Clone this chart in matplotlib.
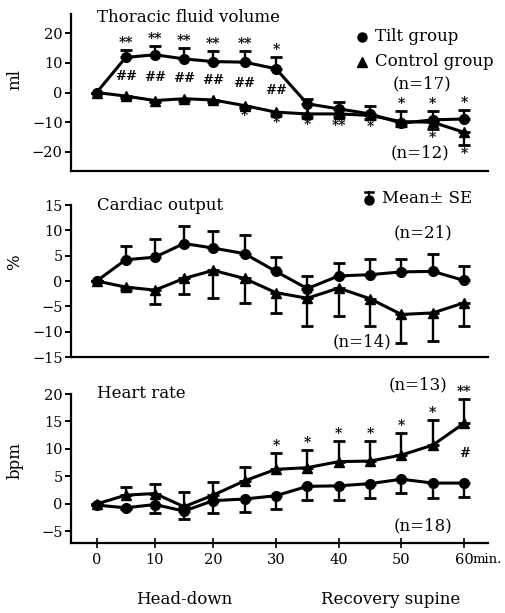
import numpy as np
import matplotlib
matplotlib.use("Agg")
import matplotlib.pyplot as plt
from matplotlib.lines import Line2D

# ---------------- data ----------------
time = [0, 5, 10, 15, 20, 25, 30, 35, 40, 45, 50, 55, 60]

tfv_tilt = [0, 11.8, 12.7, 11.3, 10.4, 10.2, 8.0, -3.8, -5.5, -7.2, -10.3, -9.2, -8.9]
tfv_tilt_se = [0, 2.6, 3.1, 3.6, 3.7, 3.6, 3.9, 1.7, 2.2, 2.8, 4.2, 3.1, 3.1]
tfv_ctrl = [0, -1.2, -2.7, -2.1, -2.5, -4.4, -6.6, -7.2, -7.2, -7.7, -9.8, -10.0, -13.4]
tfv_ctrl_se = [0, 0.5, 0.6, 0.6, 0.6, 0.8, 0.9, 1.0, 1.2, 1.2, 1.3, 2.4, 4.4]
tfv_tilt_sig = ['', '**', '**', '**', '**', '**', '*', '', '', '', '*', '*', '*']
tfv_ctrl_sig = ['', '', '', '', '', '*', '*', '*', '**', '*', '', '*', '*']
tfv_between_sig = ['', '##', '##', '##', '##', '##', '##', '', '', '', '', '', '']

co_tilt = [0, 4.2, 4.7, 7.4, 6.5, 5.4, 1.9, -1.5, 1.0, 1.25, 1.8, 1.9, 0.1]
co_tilt_se = [0, 2.7, 3.5, 3.4, 3.4, 3.7, 2.8, 2.5, 2.6, 3.05, 2.5, 3.5, 2.9]
co_ctrl = [0, -1.2, -1.8, 0.5, 2.1, 0.5, -2.3, -3.4, -1.4, -3.5, -6.6, -6.3, -4.3]
co_ctrl_se = [0, 0.6, 2.7, 3.0, 5.4, 4.8, 4.0, 5.4, 5.5, 5.3, 5.6, 5.5, 4.5]

hr_tilt = [-0.2, -0.7, -0.1, -1.3, 0.6, 0.9, 1.5, 3.2, 3.3, 3.7, 4.5, 3.8, 3.8]
hr_tilt_se = [0, 0.3, 1.6, 1.5, 2.3, 2.4, 2.4, 2.4, 2.5, 2.7, 2.5, 2.8, 2.5]
hr_ctrl = [0, 1.6, 1.9, -0.5, 1.6, 4.2, 6.3, 6.6, 7.7, 7.8, 8.9, 10.7, 14.7]
hr_ctrl_se = [0, 1.4, 1.7, 2.7, 2.4, 2.5, 3.0, 3.2, 3.7, 3.6, 4.0, 4.5, 4.4]
hr_ctrl_sig = ['', '', '', '', '', '', '*', '*', '*', '*', '*', '*', '**']
hr_between_sig = ['', '', '', '', '', '', '', '', '', '', '', '', '#']

x_ticks = [0, 10, 20, 30, 40, 50, 60]

# ---------------- style ----------------
plt.rcParams['font.family'] = ['DejaVu Serif']
plt.rcParams['font.size'] = 12
FS = 12
TFS = 10.5
LW = 2.2
MS = 7

K = 1.0773  # recovery segment is drawn slightly wider than the head-down one


def fwd(x):
    x = np.asarray(x, dtype=float)
    return np.where(x <= 20, x, 20 + (x - 20) * K)


def inv(y):
    y = np.asarray(y, dtype=float)
    return np.where(y <= 20, y, 20 + (y - 20) / K)


fig = plt.figure(figsize=(5.05, 6.13), dpi=100)
W, H = 505, 613


def add_ax(top, bottom):
    left, right = 71, 488
    return fig.add_axes([left / W, 1 - bottom / H, (right - left) / W, (bottom - top) / H])


ax1 = add_ax(14, 171)
ax2 = add_ax(205, 357)
ax3 = add_ax(394, 543)


def style(ax, ylim, yticks, ylabel, ylab_y, show_x=False):
    ax.set_xscale('function', functions=(fwd, inv))
    ax.set_xlim(-4.4, 63.8)
    ax.set_ylim(*ylim)
    ax.set_yticks(yticks)
    ax.set_yticklabels([("\u2212" + str(-t)) if t < 0 else str(t) for t in yticks])
    for s in ['top', 'right']:
        ax.spines[s].set_visible(False)
    for s in ['left', 'bottom']:
        ax.spines[s].set_linewidth(1.6)
    ax.tick_params(axis='y', direction='out', length=4, width=1.4, labelsize=TFS, pad=2)
    if show_x:
        ax.set_xticks(x_ticks)
        ax.set_xticklabels([str(t) for t in x_ticks])
        ax.tick_params(axis='x', direction='inout', length=7, width=1.2, labelsize=TFS, pad=4)
    else:
        ax.set_xticks([])
    ax.set_ylabel(ylabel, fontsize=FS, va='center')
    ax.yaxis.set_label_coords(-0.134, ylab_y)


def series(ax, y, se, marker, up):
    yerr = [np.zeros(len(se)), np.array(se)] if up else [np.array(se), np.zeros(len(se))]
    ax.errorbar(time, y, yerr=yerr, color='black', lw=LW, marker=marker, ms=MS,
                capsize=4, capthick=2.0, elinewidth=1.7, zorder=3, clip_on=False)


def sig_above(ax, y, se, labels, off=0):
    for t, v, e, s in zip(time, y, se, labels):
        if s:
            ax.annotate(s, (t, v + e), xytext=(0, off), textcoords='offset points',
                        ha='center', va='bottom', fontsize=10, fontweight='bold')


def sig_below(ax, y, se, labels, off=-1):
    for t, v, e, s in zip(time, y, se, labels):
        if s:
            ax.annotate(s, (t, v - e), xytext=(0, off), textcoords='offset points',
                        ha='center', va='top', fontsize=10, fontweight='bold')


def sig_between(ax, ya, yb, labels):
    for t, a, b, s in zip(time, ya, yb, labels):
        if s:
            ax.annotate(s, (t, (a + b) / 2), ha='center', va='center', fontsize=9.5,
                        fontweight='bold')


# ---- Panel 1: thoracic fluid volume ----
style(ax1, (-26.4, 26.4), [-20, -10, 0, 10, 20], 'ml', 0.58)
series(ax1, tfv_tilt, tfv_tilt_se, 'o', True)
series(ax1, tfv_ctrl, tfv_ctrl_se, '^', False)
sig_above(ax1, tfv_tilt, tfv_tilt_se, tfv_tilt_sig)
sig_below(ax1, tfv_ctrl, tfv_ctrl_se, tfv_ctrl_sig)
sig_between(ax1, tfv_tilt, tfv_ctrl, tfv_between_sig)
ax1.text(0.062, 0.975, 'Thoracic fluid volume', transform=ax1.transAxes, fontsize=FS,
         ha='left', va='center')
ax1.plot([0.697], [0.855], 'o', color='black', ms=6.5, transform=ax1.transAxes, clip_on=False)
ax1.text(0.729, 0.855, 'Tilt group', transform=ax1.transAxes, fontsize=FS, va='center')
ax1.plot([0.697], [0.696], '^', color='black', ms=6.5, transform=ax1.transAxes, clip_on=False)
ax1.text(0.729, 0.696, 'Control group', transform=ax1.transAxes, fontsize=FS, va='center')
ax1.text(0.842, 0.554, '(n=17)', transform=ax1.transAxes, fontsize=FS, ha='center', va='center')
ax1.text(0.837, 0.115, '(n=12)', transform=ax1.transAxes, fontsize=FS, ha='center', va='center')

# ---- Panel 2: cardiac output ----
style(ax2, (-15, 15), [-15, -10, -5, 0, 5, 10, 15], '%', 0.625)
series(ax2, co_tilt, co_tilt_se, 'o', True)
series(ax2, co_ctrl, co_ctrl_se, '^', False)
ax2.text(0.062, 1.0, 'Cardiac output', transform=ax2.transAxes, fontsize=FS,
         ha='left', va='center')
ax2.plot([0.715], [1.033], 'o', color='black', ms=6.5, transform=ax2.transAxes, clip_on=False)
ax2.add_line(Line2D([0.715, 0.715], [1.033, 1.085], color='black', lw=1.6,
                    transform=ax2.transAxes, clip_on=False))
ax2.add_line(Line2D([0.706, 0.724], [1.085, 1.085], color='black', lw=1.8,
                    transform=ax2.transAxes, clip_on=False))
ax2.text(0.747, 1.046, 'Mean\u00b1 SE', transform=ax2.transAxes, fontsize=FS, va='center')
ax2.text(0.844, 0.816, '(n=21)', transform=ax2.transAxes, fontsize=FS, ha='center', va='center')
ax2.text(0.698, 0.099, '(n=14)', transform=ax2.transAxes, fontsize=FS, ha='center', va='center')

# ---- Panel 3: heart rate ----
style(ax3, (-7.1, 20), [-5, 0, 5, 10, 15, 20], 'bpm', 0.557, show_x=True)
series(ax3, hr_tilt, hr_tilt_se, 'o', False)
series(ax3, hr_ctrl, hr_ctrl_se, '^', True)
sig_above(ax3, hr_ctrl, hr_ctrl_se, hr_ctrl_sig)
sig_between(ax3, hr_tilt, hr_ctrl, hr_between_sig)
ax3.text(0.062, 1.0, 'Heart rate', transform=ax3.transAxes, fontsize=FS,
         ha='left', va='center')
ax3.text(0.832, 1.06, '(n=13)', transform=ax3.transAxes, fontsize=FS, ha='center', va='center')
ax3.text(0.844, 0.114, '(n=18)', transform=ax3.transAxes, fontsize=FS, ha='center', va='center')
ax3.annotate('min.', (60, 0), xycoords=('data', 'axes fraction'), xytext=(6, -7.5),
             textcoords='offset points', ha='left', va='top', fontsize=9.5)

fig.text(184 / W, 1 - 600 / H, 'Head-down', fontsize=FS, ha='center', va='center')
fig.text(391 / W, 1 - 600 / H, 'Recovery supine', fontsize=FS, ha='center', va='center')

fig.savefig('out.png', dpi=100)
